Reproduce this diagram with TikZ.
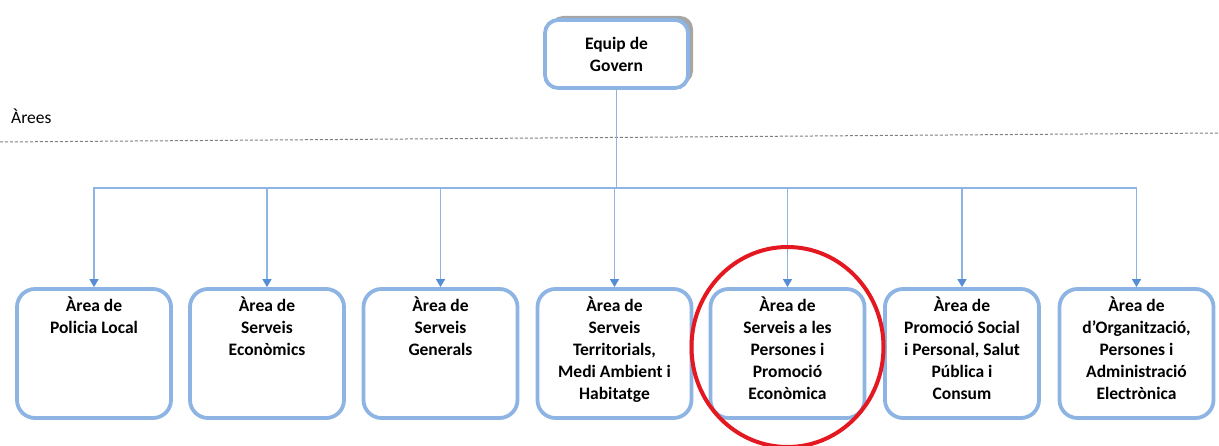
\documentclass[tikz,border=0pt]{standalone}
\usepackage{fontspec}
\setmainfont{Carlito}
\usetikzlibrary{arrows.meta}
\usetikzlibrary{positioning}
\usetikzlibrary{shadows}
\definecolor{boxblue}{RGB}{141,180,226}
\definecolor{tipblue}{RGB}{85,142,213}
\definecolor{ringred}{RGB}{228,24,32}

\begin{document}
\begin{tikzpicture}[x=1pt, y=-1pt,
  areabox/.style={draw=boxblue, line width=3.8pt, rounded corners=18pt,
    fill=white, minimum width=154pt, minimum height=129pt, inner sep=0pt},
  govbox/.style={draw=boxblue, line width=3.8pt, rounded corners=13pt,
    fill=white, minimum width=143pt, minimum height=68pt, align=center,
    font=\bfseries\fontsize{17.5}{22}\selectfont,
    general shadow={fill=gray!70, shadow xshift=5pt, shadow yshift=4pt}},
  areatxt/.style={anchor=north, align=center, inner sep=0pt,
    font=\bfseries\fontsize{17.5}{22}\selectfont},
  link/.style={draw=boxblue, line width=1.3pt,
    -{Triangle[length=8pt, width=9pt, fill=tipblue, color=tipblue]}}]
\useasboundingbox (0,0) rectangle (1219,446);
\clip (0,0) rectangle (1219,446);

\node[govbox] (gov) at (616.5,54) {Equip de\\Govern};
\node[anchor=west, inner sep=0pt, font=\fontsize{17.5}{20}\selectfont] (arees) at (11,116) {Àrees};
\draw[gray, line width=1pt, dash pattern=on 3pt off 2pt] (0,142) -- (1219,133);

\coordinate (bus) at (616.5,188);
\foreach \i/\x/\t in {
  1/94/{Àrea de\\Policia Local},
  2/267/{Àrea de\\Serveis\\Econòmics},
  3/440.5/{Àrea de\\Serveis\\Generals},
  4/614.5/{Àrea de\\Serveis\\Territorials,\\Medi Ambient i\\Habitatge},
  5/787.5/{Àrea de\\Serveis a les\\Persones i\\Promoció\\Econòmica},
  6/962/{Àrea de\\Promoció Social\\i Personal, Salut\\Pública i\\Consum},
  7/1136.5/{Àrea de\\d’Organització,\\Persones i\\Administració\\Electrònica}}
{
  \node[areabox] (a\i) at (\x,353.5) {};
  \node[areatxt, below=10pt of a\i.north] (t\i) {\t};
  \draw[link] (gov.south) -- (bus) -| (a\i.north);
}

% the ring round area 5
\draw[ringred, line width=4pt] (787.5,347) ellipse [x radius=96pt, y radius=100pt];
\end{tikzpicture}
\end{document}
